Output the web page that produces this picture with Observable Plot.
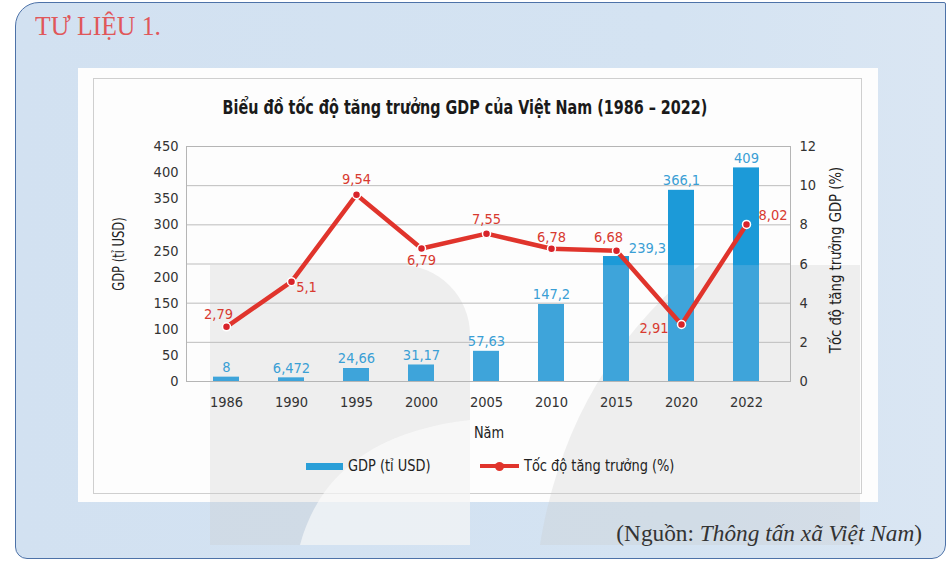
<!DOCTYPE html>
<html>
<head>
<meta charset="utf-8">
<script src="https://cdn.jsdelivr.net/npm/d3@7"></script>
<script src="https://cdn.jsdelivr.net/npm/@observablehq/plot@0.6"></script>
<style>
  html, body { margin: 0; padding: 0; background: #fff; }
  #root { position: relative; width: 950px; height: 568px; overflow: hidden; background: #fff;
    font-family: "DejaVu Sans Condensed", "Liberation Sans Narrow", sans-serif; }
  .abs { position: absolute; }
  #outer { left: 15px; top: 2px; width: 931px; height: 557px; background: linear-gradient(90deg, #d2e1f1 0%, #d4e3f2 70%, #dae6f3 100%);
    border: 1.5px solid #4d72a8; border-radius: 24px 2px 14px 12px; box-sizing: border-box; }
  #panel { left: 78px; top: 68px; width: 800px; height: 434px; background: #fdfdfd; }
  #inner { left: 93px; top: 78px; width: 769px; height: 416px; border: 1px solid #cfcfcf; box-sizing: border-box; }
  #tulieu { left: 35px; top: 11px; font-family: "Liberation Serif", "DejaVu Serif", serif; font-size: 27px; color: #e0575a;
    transform: scaleX(0.95); transform-origin: left center; white-space: nowrap; }
  #title { left: 465px; top: 107px; font-weight: bold; font-size: 19px; color: #1a1a1a; white-space: nowrap;
    transform: translate(-50%, -50%) scaleX(0.84); }
  #source { right: 28px; top: 520px; font-family: "Liberation Serif", "DejaVu Serif", serif; font-size: 23.3px; color: #333; white-space: nowrap; }
  .rot { white-space: nowrap; font-size: 16px; color: #222; }
  #nam { left: 489px; top: 432px; transform: translate(-50%, -50%) scaleX(0.9); font-size: 16px; color: #222; }
  .legtext { font-size: 16px; color: #222; top: 456px; transform: scaleX(0.9); transform-origin: left center; white-space: nowrap; }
  #plotwrap { left: 0; top: 0; }
  #wm { left: 0; top: 0; pointer-events: none; }
</style>
</head>
<body>
<div id="root">
  <div id="outer" class="abs"></div>
  <div id="panel" class="abs"></div>
  <div id="inner" class="abs"></div>
  <svg id="wm" class="abs" width="950" height="568">
    <g fill="#c8c8c8" opacity="0.28">
      <path d="M210,265 H400 A70 70 0 0 1 470 335 V545 H210 Z"/>
      <path d="M540,545 C560,420 620,330 700,265 H860 V545 Z"/>
    </g>
    <path d="M300,545 C320,470 380,430 470,420 V545 Z" fill="#fdfdfd" opacity="0.6"/>
  </svg>
  <div id="tulieu" class="abs">TƯ LIỆU 1.</div>
  <div id="title" class="abs">Biểu đồ tốc độ tăng trưởng GDP của Việt Nam (1986 – 2022)</div>
  <div class="abs rot" style="left:118px; top:254px; transform: translate(-50%, -50%) rotate(-90deg) scaleX(0.8);">GDP (tỉ USD)</div>
  <div class="abs rot" style="left:835px; top:260px; transform: translate(-50%, -50%) rotate(-90deg) scaleX(0.92);">Tốc độ tăng trưởng GDP (%)</div>
  <div id="nam" class="abs">Năm</div>
  <div class="abs" style="left:306px; top:463px; width:37px; height:7px; background:#2a9fd8;"></div>
  <div class="abs legtext" style="left:348px;">GDP (tỉ USD)</div>
  <div class="abs" style="left:480px; top:464px; width:39px; height:4px; background:#e0342c;"></div>
  <div class="abs" style="left:495px; top:462px; width:9px; height:9px; border-radius:50%; background:#e0342c;"></div>
  <div class="abs legtext" style="left:524px;">Tốc độ tăng trưởng (%)</div>
  <div id="source" class="abs">(Nguồn: <i>Thông tấn xã Việt Nam</i>)</div>
  <div id="plotwrap" class="abs"></div>
</div>
<script>
const years = ["1986", "1990", "1995", "2000", "2005", "2010", "2015", "2020", "2022"];
const gdp = [8, 6.472, 24.66, 31.17, 57.63, 147.2, 239.3, 366.1, 409];
const gdpLabels = ["8", "6,472", "24,66", "31,17", "57,63", "147,2", "239,3", "366,1", "409"];
const growth = [2.79, 5.1, 9.54, 6.79, 7.55, 6.78, 6.68, 2.91, 8.02];
const growthLabels = ["2,79", "5,1", "9,54", "6,79", "7,55", "6,78", "6,68", "2,91", "8,02"];
const gdpTicks = [0, 50, 100, 150, 200, 250, 300, 350, 400, 450];
const growthTicks = [0, 2, 4, 6, 8, 10, 12];

const SCALE = 450 / 12; // growth (%) -> GDP axis units
const WATERMARK_TOP = 222; // GDP level where the background watermark begins (lighter bar tone below)
const data = years.map((y, i) => ({
  year: y, gdp: gdp[i], gdpLabel: gdpLabels[i],
  growth: growth[i], g: growth[i] * SCALE, growthLabel: growthLabels[i]
}));
const pick = (...idx) => data.filter((d, i) => idx.includes(i));

const BLUE = "#1c9ad8";
const BLUE_LOW = "#3ea4da";
const LBLUE = "#3a9fd5";
const RED = "#e0342c";
const LRED = "#d83a30";
const FS = 14.5;

const gl = (idx, opts) => Plot.text(pick(...idx), {x: "year", y: "g", text: "growthLabel", fill: LRED, fontSize: FS, ...opts});

const chart = Plot.plot({
  width: 950,
  height: 568,
  marginLeft: 186,
  marginRight: 160,
  marginTop: 146,
  marginBottom: 187,
  style: {background: "transparent", fontFamily: "'DejaVu Sans Condensed', 'Liberation Sans Narrow', sans-serif", fontSize: "14.5px", color: "#333", overflow: "visible"},
  x: {domain: years, paddingInner: 0.6, paddingOuter: 0.376, align: 0.46, label: null},
  y: {domain: [0, 450], label: null},
  marks: [
    Plot.gridY(growthTicks.slice(1, -1).map(v => v * SCALE), {stroke: "#bdbdbd", strokeOpacity: 1}),
    Plot.frame({stroke: "#b5b5b5"}),
    Plot.barY(data, {x: "year", y: "gdp", fill: BLUE}),
    Plot.barY(data, {x: "year", y: d => Math.min(d.gdp, WATERMARK_TOP), fill: BLUE_LOW}),
    Plot.text(pick(0,1,2,3,4,5,7,8), {x: "year", y: "gdp", text: "gdpLabel", fill: LBLUE, fontSize: FS, dy: -10}),
    Plot.text(pick(6), {x: "year", y: "gdp", text: "gdpLabel", fill: LBLUE, fontSize: FS, dy: -8, dx: 31}),
    Plot.line(data, {x: "year", y: "g", stroke: RED, strokeWidth: 4.5, strokeLinejoin: "round"}),
    Plot.dot(data, {x: "year", y: "g", r: 4, fill: "#d8232a", stroke: "white", strokeWidth: 1.5}),
    gl([0], {dx: -8, dy: -13}),
    gl([1], {dx: 15, dy: 6}),
    gl([2], {dy: -15}),
    gl([3], {dy: 12}),
    gl([4], {dy: -14}),
    gl([5], {dy: -11}),
    gl([6], {dx: -8, dy: -13}),
    gl([7], {textAnchor: "end", dx: -13, dy: 4}),
    gl([8], {textAnchor: "start", dx: 12, dy: -9}),
    Plot.axisY(gdpTicks, {anchor: "left", tickSize: 0, tickPadding: 8, label: null, fontSize: FS, fill: "#333"}),
    Plot.axisY(growthTicks.map(v => v * SCALE), {anchor: "right", tickSize: 0, tickPadding: 9, label: null, fontSize: FS, fill: "#333",
      tickFormat: d => String(Math.round(d / SCALE))}),
    Plot.axisX({tickSize: 0, tickPadding: 15, label: null, fontSize: FS, fill: "#333"})
  ]
});
document.getElementById("plotwrap").appendChild(chart);
</script>
</body>
</html>
